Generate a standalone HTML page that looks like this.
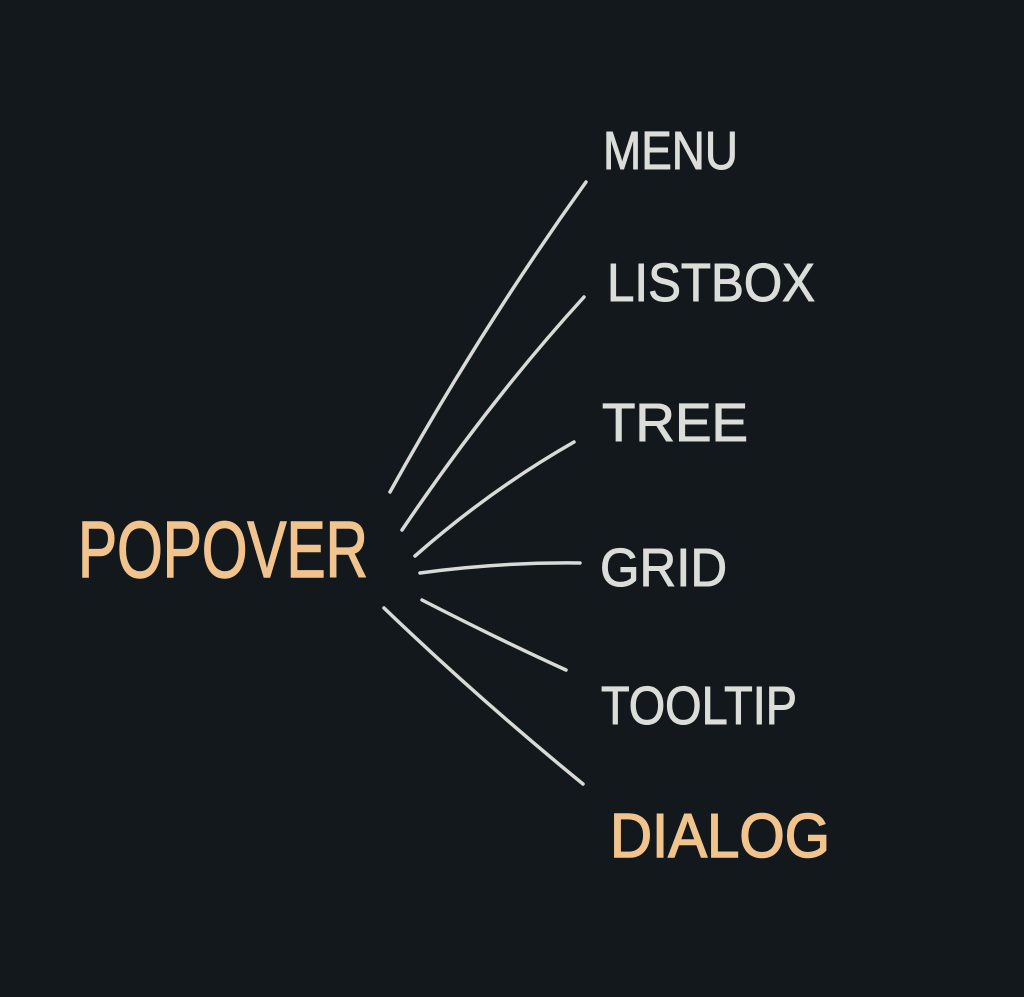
<!DOCTYPE html>
<html><head><meta charset="utf-8"><style>
html,body{margin:0;padding:0;background:#13181d;}
svg{display:block}
text{font-family:"Liberation Sans",sans-serif;}
</style></head><body>
<svg width="1024" height="997" viewBox="0 0 1024 997" xmlns="http://www.w3.org/2000/svg">
<rect width="1024" height="997" fill="#13181d"/>
<g stroke="#d9d9d5" stroke-width="3.5" fill="none" stroke-linecap="round">
<path d="M390 492 Q480 330 586 182"/>
<path d="M402 530 Q490 400 584 297"/>
<path d="M415 556 Q490 490 574 442"/>
<path d="M420 573 Q500 562 580 563"/>
<path d="M422 600 Q500 640 566 670"/>
<path d="M384 608 Q480 700 583 784"/>
</g>
<g fill="#dcdcd8" stroke="#dcdcd8" stroke-width="1" font-size="54">
<text x="603" y="169" textLength="135" lengthAdjust="spacingAndGlyphs">MENU</text>
<text x="607" y="301" textLength="208" lengthAdjust="spacingAndGlyphs">LISTBOX</text>
<text x="602" y="441" textLength="146" lengthAdjust="spacingAndGlyphs">TREE</text>
<text x="600" y="586" textLength="127" lengthAdjust="spacingAndGlyphs">GRID</text>
<text x="601" y="724" textLength="196" lengthAdjust="spacingAndGlyphs">TOOLTIP</text>
</g>
<g fill="#f2c48d" stroke="#f2c48d" stroke-width="1.5">
<text x="610" y="857" font-size="62" textLength="220" lengthAdjust="spacingAndGlyphs">DIALOG</text>
<text x="78" y="577" font-size="80" textLength="290" lengthAdjust="spacingAndGlyphs">POPOVER</text>
</g>
</svg>
</body></html>
